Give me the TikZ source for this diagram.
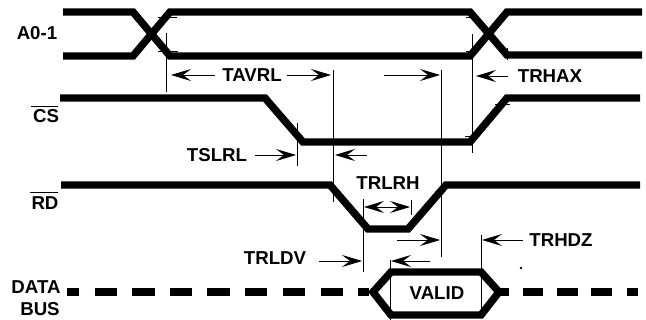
\documentclass[tikz,border=0pt]{standalone}
\usepackage{fontspec}
\setmainfont{Liberation Sans}
\usetikzlibrary{arrows.meta}
\tikzset{
  signal/.style={line width=5.6pt,miter limit=10,line join=miter,line cap=butt},
  thin guide/.style={line width=0.7pt,black},
  dim/.style={line width=0.6pt,-{Stealth[length=15pt,width=9pt,inset=6pt]}},
  lab/.style={inner sep=0pt,font=\fontsize{14}{14}\selectfont\bfseries},
}
\begin{document}
\begin{tikzpicture}[x=0.75pt,y=-0.75pt]
\useasboundingbox (0,0) rectangle (646,320);
\fill[white] (0,0) rectangle (646,320);
% A0-1
\draw[signal] (63,12) -- (133,12) -- (170,56) -- (470,56) -- (507,12) -- (642,12);
\draw[signal] (63,56) -- (133,56) -- (170,12) -- (470,12) -- (507,55) -- (642,55);
% CS
\draw[signal] (60,98) -- (265,98) -- (303,142) -- (470,142) -- (507,98) -- (640,98);
% RD
\draw[signal] (61,185) -- (330,185) -- (368,229) -- (408,229) -- (446,185) -- (640,185);
% data bus
\foreach \a/\b in {67/79,95/117,132/155,170/192,207/230,245/267,283/305,321/343,358/369,498/509,523/543,557/578,591/612,627/638}
  \draw[signal] (\a,292) -- (\b,292);
\draw[signal] (373,292) -- (391,272) -- (481,272) -- (499,292) -- (481,315) -- (391,315) -- cycle;
% guides
\foreach \x/\a/\b in {166/33/92,333/70/202,441/70/257,472/34/153,507/48/60,297/123/166,363/199/272,411/200/215,390/260/320,481/235/310}
  \draw[thin guide] (\x,\a) -- (\x,\b);
% small ticks at the transition corners
\foreach \a/\b/\y in {158/177/17,158/178/51,466/478/17,466/478/51,465/478/136,495/510/104}
  \draw[thin guide] (\a,\y) -- (\b,\y);
% dimension arrows
\draw[dim] (215,75) -- (171,75);
\draw[dim] (287,75) -- (331,75);
\draw[dim] (384,75) -- (440,75);
\draw[dim] (508,76) -- (476,76);
\draw[dim] (255,155) -- (296,155);
\draw[dim] (367,155) -- (335,155);
\draw[dim] (387,207) -- (364,207);
\draw[dim] (387,207) -- (410,207);
\draw[dim] (319,261) -- (362,261);
\draw[dim] (397,240) -- (440,240);
\draw[dim] (430,261) -- (391,261);
\draw[dim] (523,240) -- (482,240);
% labels
\node[lab] (a01) at (37,33) {A0-1};
\node[lab] (cs) at (46,116) {CS};
\node[lab] (rd) at (45,203) {RD};
\draw[thin guide] (31,106) -- (58,106) (30,192) -- (58,192);
\node[lab] (data) at (36,287) {DATA};
\node[lab] (bus) at (40,309) {BUS};
\node[lab] (tavrl) at (252,75) {TAVRL};
\node[lab] (trhax) at (550,76) {TRHAX};
\node[lab] (tslrl) at (217,155) {TSLRL};
\node[lab] (trlrh) at (388,183) {TRLRH};
\node[lab] (trldv) at (275,258) {TRLDV};
\node[lab] (trhdz) at (561,240) {TRHDZ};
\node[lab] (valid) at (437,293) {VALID};
\fill (521,268) circle (1pt);
\end{tikzpicture}
\end{document}
